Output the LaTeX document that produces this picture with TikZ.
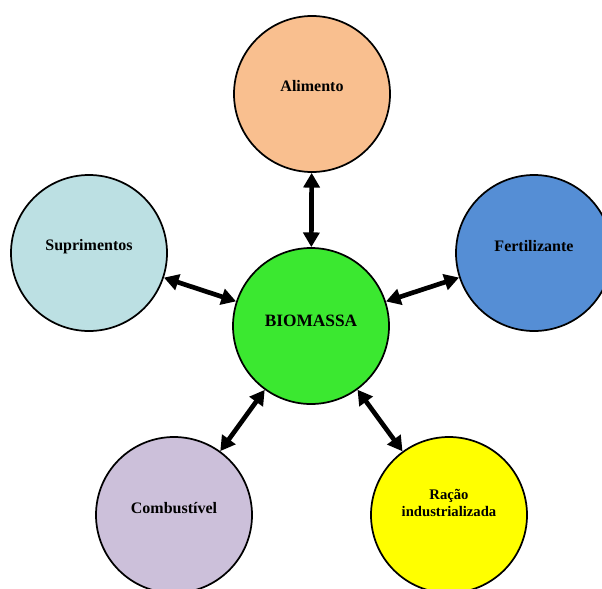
\documentclass[tikz,border=0pt]{standalone}
\usepackage{fontspec}
\setmainfont{Liberation Serif}
\usetikzlibrary{positioning,arrows.meta}
\definecolor{alimc}{HTML}{F9BF8F}
\definecolor{supc}{HTML}{BCE0E3}
\definecolor{ferc}{HTML}{558ED5}
\definecolor{bioc}{HTML}{3BE830}
\definecolor{combc}{HTML}{CCC0DA}
\definecolor{racc}{HTML}{FFFF00}
\tikzset{bnode/.style={circle,draw,line width=1.3pt,minimum size=117pt,inner sep=0pt},
	 blbl/.style={font=\bfseries\fontsize{12}{13}\selectfont,align=center},
	 link/.style={{Triangle[length=11pt,width=12pt]}-{Triangle[length=11pt,width=12pt]},line width=3.5pt}
	 }
\begin{document}
\begin{tikzpicture}[x=0.75pt,y=-0.75pt] % biomassa e seus usos
	\useasboundingbox (0,0) rectangle (602,588);
	\node[bnode,fill=bioc] (bio) at (311,326) [label={[blbl,font=\bfseries\fontsize{13}{14}\selectfont,yshift=4pt]center:BIOMASSA}] {};
	\node[bnode,fill=alimc] (alim) at (312,94) [label={[blbl,yshift=6pt]center:Alimento}] {};
	\node[bnode,fill=supc] (sup) at (89,253) [label={[blbl,yshift=5pt]center:Suprimentos}] {};
	\node[bnode,fill=ferc] (fert) at (534,253) [label={[blbl,yshift=5pt]center:Fertilizante}] {};
	\node[bnode,fill=combc] (comb) at (174,515) [label={[blbl,yshift=5pt]center:Combustível}] {};
	\node[bnode,fill=racc] (rac) at (449,515) [label={[blbl,font=\bfseries\fontsize{11}{13}\selectfont,yshift=9pt]center:Ração\\industrializada}] {};
	\draw [link] (bio) -- (alim); \draw [link] (bio) -- (sup); \draw [link] (bio) -- (fert);
	\draw [link] (bio) -- (comb); \draw [link] (bio) -- (rac);
\end{tikzpicture}
\end{document}
